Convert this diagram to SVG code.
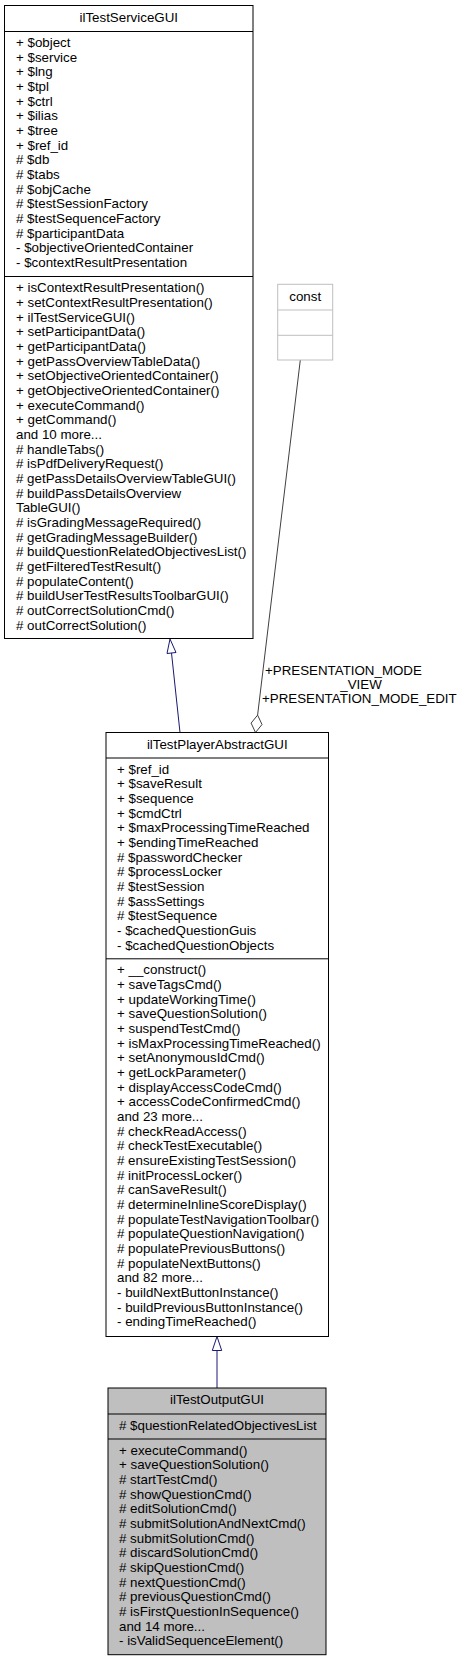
<svg xmlns="http://www.w3.org/2000/svg" width="465" height="1660" viewBox="0 0 465 1660">
<style>
text{font-family:"Liberation Sans",Arial,sans-serif;font-size:13.33px;fill:#000}
.t{text-anchor:middle}
.box{fill:#fff;stroke:#000;stroke-width:1}
.cur{fill:#bfbfbf;stroke:#000;stroke-width:1}
.sep{stroke:#000;stroke-width:1}
.cbox{fill:#fff;stroke:#bfbfbf;stroke-width:1}
.inh{fill:none;stroke:#191970;stroke-width:1}
.inhh{fill:#fff;stroke:#191970;stroke-width:1}
.agg{fill:none;stroke:#404040;stroke-width:1}
.aggh{fill:#fff;stroke:#404040;stroke-width:1}
</style>
<rect width="465" height="1660" fill="#fff"/>
<g id="connectors">
<path class="inh" d="M180,732.5 L171.5,653"/>
<polygon class="inhh" points="170,639 176,652.5 167,653.5"/>
<path class="inh" d="M217,1388 L217,1350.5"/>
<polygon class="inhh" points="217,1336.5 221.7,1350.5 212.3,1350.5"/>
<path class="agg" d="M300.3,360 L257.6,715.1"/>
<polygon class="aggh" points="255.5,732.5 262,724.5 257.6,715.1 251.1,723.1"/>
<text x="265" y="675">+PRESENTATION_MODE</text>
<text class="t" x="361" y="689">_VIEW</text>
<text x="262" y="703">+PRESENTATION_MODE_EDIT</text>
</g>
<g id="ilTestServiceGUI">
<rect class="box" x="4.5" y="5.5" width="248.5" height="633"/>
<line class="sep" x1="4.5" y1="31.5" x2="253" y2="31.5"/>
<line class="sep" x1="4.5" y1="276.5" x2="253" y2="276.5"/>
<text class="t" x="128.75" y="21.5">ilTestServiceGUI</text>
<text x="16" y="47"><tspan x="16">+ $object</tspan><tspan x="16" dy="14.67">+ $service</tspan><tspan x="16" dy="14.67">+ $lng</tspan><tspan x="16" dy="14.67">+ $tpl</tspan><tspan x="16" dy="14.67">+ $ctrl</tspan><tspan x="16" dy="14.67">+ $ilias</tspan><tspan x="16" dy="14.67">+ $tree</tspan><tspan x="16" dy="14.67">+ $ref_id</tspan><tspan x="16" dy="14.67"># $db</tspan><tspan x="16" dy="14.67"># $tabs</tspan><tspan x="16" dy="14.67"># $objCache</tspan><tspan x="16" dy="14.67"># $testSessionFactory</tspan><tspan x="16" dy="14.67"># $testSequenceFactory</tspan><tspan x="16" dy="14.67"># $participantData</tspan><tspan x="16" dy="14.67">- $objectiveOrientedContainer</tspan><tspan x="16" dy="14.67">- $contextResultPresentation</tspan></text>
<text x="16" y="292.2"><tspan x="16">+ isContextResultPresentation()</tspan><tspan x="16" dy="14.67">+ setContextResultPresentation()</tspan><tspan x="16" dy="14.67">+ ilTestServiceGUI()</tspan><tspan x="16" dy="14.67">+ setParticipantData()</tspan><tspan x="16" dy="14.67">+ getParticipantData()</tspan><tspan x="16" dy="14.67">+ getPassOverviewTableData()</tspan><tspan x="16" dy="14.67">+ setObjectiveOrientedContainer()</tspan><tspan x="16" dy="14.67">+ getObjectiveOrientedContainer()</tspan><tspan x="16" dy="14.67">+ executeCommand()</tspan><tspan x="16" dy="14.67">+ getCommand()</tspan><tspan x="16" dy="14.67">and 10 more...</tspan><tspan x="16" dy="14.67"># handleTabs()</tspan><tspan x="16" dy="14.67"># isPdfDeliveryRequest()</tspan><tspan x="16" dy="14.67"># getPassDetailsOverviewTableGUI()</tspan><tspan x="16" dy="14.67"># buildPassDetailsOverview</tspan><tspan x="16" dy="14.67">TableGUI()</tspan><tspan x="16" dy="14.67"># isGradingMessageRequired()</tspan><tspan x="16" dy="14.67"># getGradingMessageBuilder()</tspan><tspan x="16" dy="14.67"># buildQuestionRelatedObjectivesList()</tspan><tspan x="16" dy="14.67"># getFilteredTestResult()</tspan><tspan x="16" dy="14.67"># populateContent()</tspan><tspan x="16" dy="14.67"># buildUserTestResultsToolbarGUI()</tspan><tspan x="16" dy="14.67"># outCorrectSolutionCmd()</tspan><tspan x="16" dy="14.67"># outCorrectSolution()</tspan></text>
</g>
<g id="const">
<rect class="cbox" x="277.7" y="284.3" width="55" height="75.7"/>
<line class="cbox" x1="277.7" y1="310" x2="332.7" y2="310"/>
<line class="cbox" x1="277.7" y1="335.3" x2="332.7" y2="335.3"/>
<text class="t" x="305.2" y="300.5">const</text>
</g>
<g id="ilTestPlayerAbstractGUI">
<rect class="box" x="106" y="732.5" width="222.5" height="604"/>
<line class="sep" x1="106" y1="758" x2="328.5" y2="758"/>
<line class="sep" x1="106" y1="958.8" x2="328.5" y2="958.8"/>
<text class="t" x="217.25" y="748.5">ilTestPlayerAbstractGUI</text>
<text x="117" y="773.5"><tspan x="117">+ $ref_id</tspan><tspan x="117" dy="14.67">+ $saveResult</tspan><tspan x="117" dy="14.67">+ $sequence</tspan><tspan x="117" dy="14.67">+ $cmdCtrl</tspan><tspan x="117" dy="14.67">+ $maxProcessingTimeReached</tspan><tspan x="117" dy="14.67">+ $endingTimeReached</tspan><tspan x="117" dy="14.67"># $passwordChecker</tspan><tspan x="117" dy="14.67"># $processLocker</tspan><tspan x="117" dy="14.67"># $testSession</tspan><tspan x="117" dy="14.67"># $assSettings</tspan><tspan x="117" dy="14.67"># $testSequence</tspan><tspan x="117" dy="14.67">- $cachedQuestionGuis</tspan><tspan x="117" dy="14.67">- $cachedQuestionObjects</tspan></text>
<text x="117" y="974.4"><tspan x="117">+ __construct()</tspan><tspan x="117" dy="14.67">+ saveTagsCmd()</tspan><tspan x="117" dy="14.67">+ updateWorkingTime()</tspan><tspan x="117" dy="14.67">+ saveQuestionSolution()</tspan><tspan x="117" dy="14.67">+ suspendTestCmd()</tspan><tspan x="117" dy="14.67">+ isMaxProcessingTimeReached()</tspan><tspan x="117" dy="14.67">+ setAnonymousIdCmd()</tspan><tspan x="117" dy="14.67">+ getLockParameter()</tspan><tspan x="117" dy="14.67">+ displayAccessCodeCmd()</tspan><tspan x="117" dy="14.67">+ accessCodeConfirmedCmd()</tspan><tspan x="117" dy="14.67">and 23 more...</tspan><tspan x="117" dy="14.67"># checkReadAccess()</tspan><tspan x="117" dy="14.67"># checkTestExecutable()</tspan><tspan x="117" dy="14.67"># ensureExistingTestSession()</tspan><tspan x="117" dy="14.67"># initProcessLocker()</tspan><tspan x="117" dy="14.67"># canSaveResult()</tspan><tspan x="117" dy="14.67"># determineInlineScoreDisplay()</tspan><tspan x="117" dy="14.67"># populateTestNavigationToolbar()</tspan><tspan x="117" dy="14.67"># populateQuestionNavigation()</tspan><tspan x="117" dy="14.67"># populatePreviousButtons()</tspan><tspan x="117" dy="14.67"># populateNextButtons()</tspan><tspan x="117" dy="14.67">and 82 more...</tspan><tspan x="117" dy="14.67">- buildNextButtonInstance()</tspan><tspan x="117" dy="14.67">- buildPreviousButtonInstance()</tspan><tspan x="117" dy="14.67">- endingTimeReached()</tspan></text>
</g>
<g id="ilTestOutputGUI">
<rect class="cur" x="108" y="1388" width="218" height="266.7"/>
<line class="sep" x1="108" y1="1414" x2="326" y2="1414"/>
<line class="sep" x1="108" y1="1439" x2="326" y2="1439"/>
<text class="t" x="217" y="1404">ilTestOutputGUI</text>
<text x="119" y="1429.6"># $questionRelatedObjectivesList</text>
<text x="119" y="1454.6"><tspan x="119">+ executeCommand()</tspan><tspan x="119" dy="14.67">+ saveQuestionSolution()</tspan><tspan x="119" dy="14.67"># startTestCmd()</tspan><tspan x="119" dy="14.67"># showQuestionCmd()</tspan><tspan x="119" dy="14.67"># editSolutionCmd()</tspan><tspan x="119" dy="14.67"># submitSolutionAndNextCmd()</tspan><tspan x="119" dy="14.67"># submitSolutionCmd()</tspan><tspan x="119" dy="14.67"># discardSolutionCmd()</tspan><tspan x="119" dy="14.67"># skipQuestionCmd()</tspan><tspan x="119" dy="14.67"># nextQuestionCmd()</tspan><tspan x="119" dy="14.67"># previousQuestionCmd()</tspan><tspan x="119" dy="14.67"># isFirstQuestionInSequence()</tspan><tspan x="119" dy="14.67">and 14 more...</tspan><tspan x="119" dy="14.67">- isValidSequenceElement()</tspan></text>
</g>
</svg>
